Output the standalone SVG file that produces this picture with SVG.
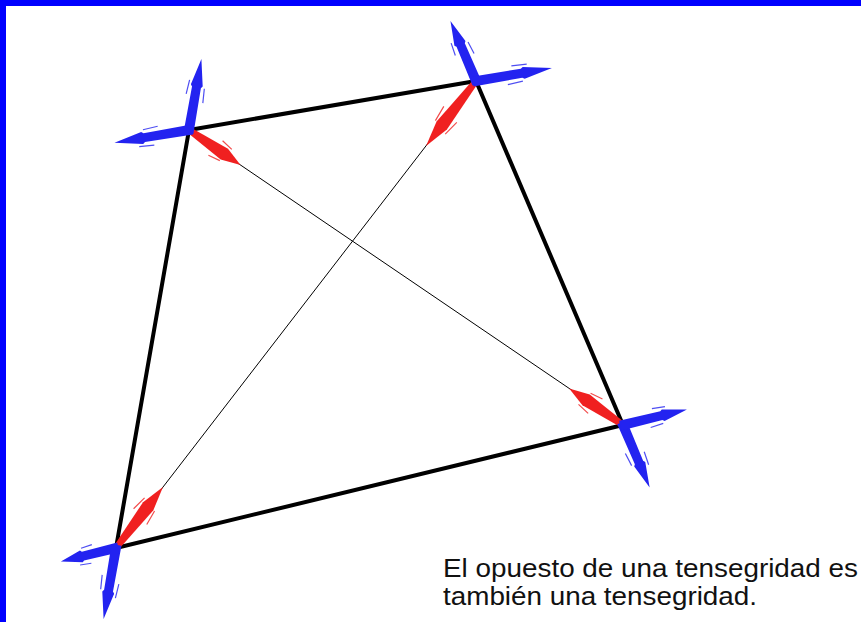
<svg xmlns="http://www.w3.org/2000/svg" xmlns:xlink="http://www.w3.org/1999/xlink" width="861" height="622" viewBox="0 0 861 622">
  <style>
    .edge { stroke: #000; stroke-width: 4; stroke-linecap: round; fill: none; }
    .diag { stroke: #000; stroke-width: 1; fill: none; }
    .blue { fill: #2323f0; }
    .red { fill: #f02020; }
    .bluehair { stroke: #2323f0; stroke-width: 1.2; fill: none; opacity: 0.8; }
    .redhair { stroke: #f02020; stroke-width: 1.2; fill: none; opacity: 0.8; }
    .caption { font-family: "Liberation Sans", Arial, sans-serif; font-size: 26px; fill: #111; }
  </style>
  <defs>
    <g id="blueArrow">
      <path class="blue" d="M-3,-5 L42,-4.5 L44,-6 L70,0 L44,6 L42,4.5 L-3,5 Z"/>
      <path class="bluehair" vector-effect="non-scaling-stroke" d="M34,-9 L48,-8 M28,9 L42,8"/>
    </g>
    <g id="redArrow">
      <path class="red" d="M0,-3 L48,-6.5 L70,0 L48,6.5 L0,3 Z"/>
      <path class="redhair" vector-effect="non-scaling-stroke" d="M38,-10 L52,-8 M34,10 L48,8"/>
    </g>
  </defs>
  <rect x="0" y="0" width="861" height="622" fill="#ffffff"/>
  <rect x="0" y="0" width="861" height="6" fill="#0000ff"/>
  <rect x="0" y="0" width="6" height="622" fill="#0000ff"/>

  <g id="connectors">
    <line class="diag" x1="189" y1="130" x2="623" y2="425"/>
    <line class="diag" x1="476" y1="81" x2="116" y2="548"/>
    <line class="edge" x1="189" y1="130" x2="476" y2="81"/>
    <line class="edge" x1="476" y1="81" x2="623" y2="425"/>
    <line class="edge" x1="623" y1="425" x2="116" y2="548"/>
    <line class="edge" x1="116" y1="548" x2="189" y2="130"/>
  </g>

  <g id="node-tl">
    <use xlink:href="#redArrow" transform="translate(189,130) rotate(34.2) scale(0.89,1)"/>
    <use xlink:href="#blueArrow" transform="translate(189,130) rotate(-80.1) scale(1.03,1)"/>
    <use xlink:href="#blueArrow" transform="translate(189,130) rotate(170.3) scale(1.08,1)"/>
  </g>
  <g id="node-tr">
    <use xlink:href="#redArrow" transform="translate(476,81) rotate(127.6) scale(1.17,1)"/>
    <use xlink:href="#blueArrow" transform="translate(476,81) rotate(-113.1) scale(0.93,1)"/>
    <use xlink:href="#blueArrow" transform="translate(476,81) rotate(-9.7) scale(1.1,1)"/>
  </g>
  <g id="node-br">
    <use xlink:href="#redArrow" transform="translate(623,425) rotate(214.2) scale(0.93,1)"/>
    <use xlink:href="#blueArrow" transform="translate(623,425) rotate(66.9) scale(0.97,1)"/>
    <use xlink:href="#blueArrow" transform="translate(623,425) rotate(-13.7) scale(0.94,1)"/>
  </g>
  <g id="node-bl">
    <use xlink:href="#redArrow" transform="translate(116,548) rotate(-52.4) scale(1.1,1)"/>
    <use xlink:href="#blueArrow" transform="translate(116,548) rotate(166.3) scale(0.81,1)"/>
    <use xlink:href="#blueArrow" transform="translate(116,548) rotate(99.9) scale(1.03,1)"/>
  </g>

  <g id="caption">
    <text class="caption" x="443" y="577" textLength="415" lengthAdjust="spacingAndGlyphs">El opuesto de una tensegridad es</text>
    <text class="caption" x="443" y="605" textLength="314" lengthAdjust="spacingAndGlyphs">también una tensegridad.</text>
  </g>
</svg>
